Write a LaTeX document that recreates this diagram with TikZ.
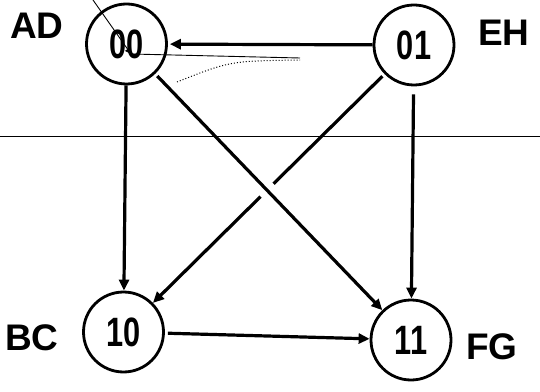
\documentclass[tikz,border=0pt]{standalone}
\usepackage{fontspec}
\setmainfont{Liberation Sans}
\usetikzlibrary{arrows.meta,calc}
\begin{document}
\begin{tikzpicture}[x=1pt,y=1pt,
  state/.style={circle,draw,line width=2.8pt,minimum size=80pt,inner sep=0pt,font=\fontsize{41}{41}\selectfont\bfseries},
  lbl/.style={font=\fontsize{37}{37}\selectfont\bfseries,inner sep=0pt},
  edge/.style={line width=3.2pt,-{Triangle[length=11pt,width=10pt]}},
  thinline/.style={line width=0.9pt}
]
\useasboundingbox[fill=white] (0,0) rectangle (540,391);
% states
\node[state] (n00) at (126.5,347) {\scalebox{0.75}[1]{00}};
\node[state] (n01) at (414,346) {\scalebox{0.75}[1]{01}};
\node[state] (n10) at (123.5,59) {\scalebox{0.75}[1]{10}};
\node[state] (n11) at (411,51) {\scalebox{0.75}[1]{11}};
% labels
\node[lbl] (lAD) at (37,365) {AD};
\node[lbl] (lEH) at (504,358) {EH};
\node[lbl] (lBC) at (32,53) {BC};
\node[lbl] (lFG) at (492,44) {FG};
% scan marks
\coordinate (topmark) at (93,391);
\coordinate (inner00) at (131,337);
\coordinate (rightmark) at (300,333);
\coordinate (leftedge) at (0,255);
\coordinate (rightedge) at (540,255);
\draw[thinline] (leftedge) -- (rightedge);
\draw[thinline,-{Triangle[length=6pt,width=6pt]}] (topmark) -- (inner00);
\draw[thinline] (inner00) -- (rightmark);
\draw[line width=1pt,dotted] (177,309) .. controls (230,330) .. (300,331);
% edges
\draw[edge,shorten >=2pt] (n01) -- (n00);
\draw[edge] (n00) -- (n10);
\draw[edge,shorten <=3pt] (n01) -- (n10);
\draw[white,line width=18pt] ($(n00)!0.48!(n11)$) -- ($(n00)!0.54!(n11)$);
\draw[edge,shorten <=3pt] (n00) -- (n11);
\draw[edge,shorten <=8pt] (n01) -- (n11);
\draw[edge,shorten <=3pt] (n10) -- (n11);
\end{tikzpicture}
\end{document}
